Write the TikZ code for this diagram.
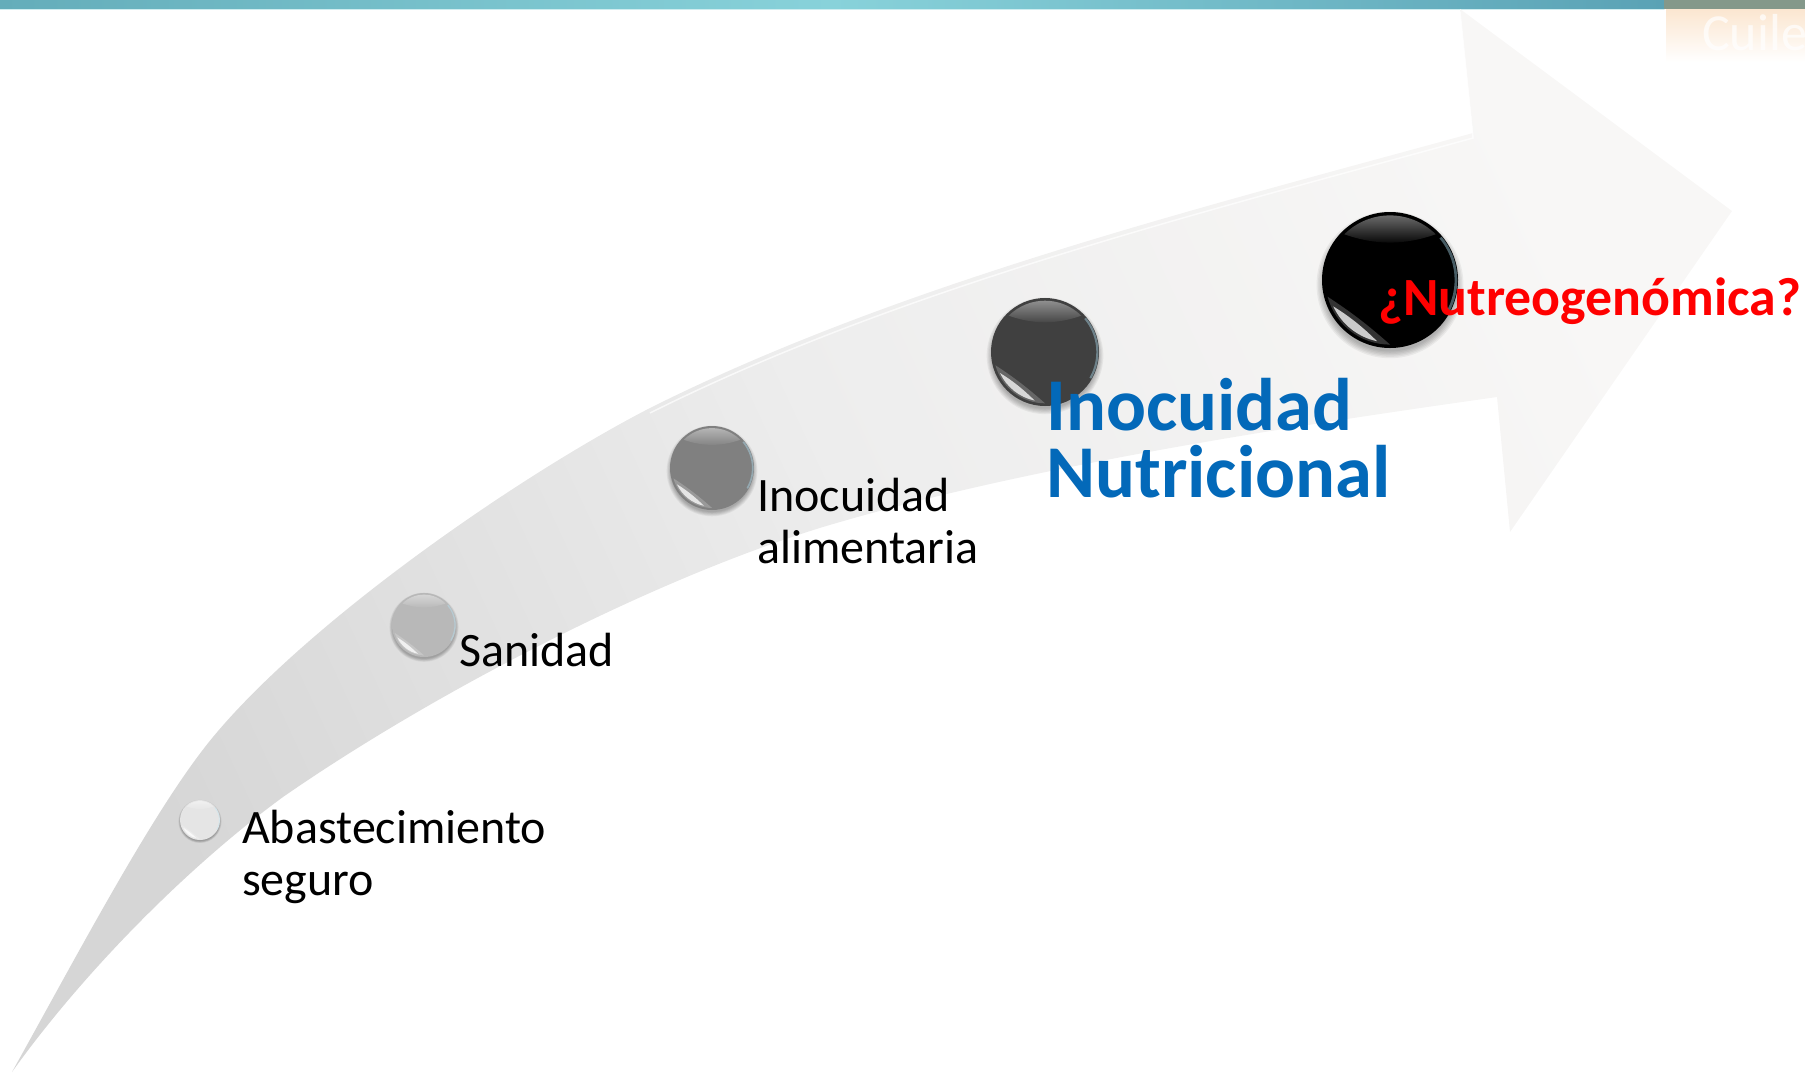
\documentclass[tikz,border=0pt]{standalone}
\usepackage{fontspec}
\setmainfont{Carlito}
\usepackage{xcolor}
\usetikzlibrary{positioning}
\definecolor{barteal}{HTML}{64ADBA}
\definecolor{barlight}{HTML}{88D2DA}
\definecolor{barright}{HTML}{5AA2B5}
\definecolor{barend}{HTML}{84988A}
\definecolor{tabfade}{HTML}{FBE6D0}
\definecolor{tailgrey}{HTML}{D6D6D6}
\definecolor{midgrey}{HTML}{EDEDED}
\definecolor{headgrey}{HTML}{F8F7F6}
\definecolor{bluelabel}{HTML}{0369B9}
\newcommand{\glossbutton}[5]{%
    \foreach \k in {0,...,5} {
        \fill[black, opacity=0.05] (#2,#3+0.07*#4) circle ({(1.08-0.02*\k)*#4});
    }
    \node[button, minimum size=2*#4 pt, fill=#5] (#1) at (#2,#3) {};
    \begin{scope}[shift={(#1.center)}, x=#4pt, y=#4pt]
        \shade[top color=#5!50!white, bottom color=#5] (45:0.95) arc[start angle=45, end angle=135, radius=0.95] .. controls (112:0.55) and (68:0.55) .. cycle;
        \fill[white, opacity=0.2] (195:0.95) arc[start angle=195, end angle=270, radius=0.95] .. controls (245:0.74) and (220:0.74) .. cycle;
        \fill[white, opacity=0.75] (205:0.92) arc[start angle=205, end angle=258, radius=0.92] .. controls (240:0.8) and (222:0.8) .. cycle;
        \draw[white!70!cyan, opacity=0.4, line width=0.04*#4 pt] (-30:0.97) arc[start angle=-30, end angle=40, radius=0.97];
    \end{scope}
}
\begin{document}
\begin{tikzpicture}[
    x=1pt, y=-1pt,
    button/.style={circle, inner sep=0pt, draw=none},
    steplabel/.style={anchor=base west, inner sep=0pt, align=left, font=\fontsize{48}{52}\selectfont},
    biglabel/.style={anchor=base west, inner sep=0pt, align=left, text=bluelabel, font=\fontsize{74.5}{67}\selectfont\bfseries},
    asklabel/.style={anchor=base west, inner sep=0pt, text=red, font=\fontsize{53.8}{60}\selectfont\bfseries}
]
    \useasboundingbox (0,0) rectangle (1805,1072);
    \clip (0,0) rectangle (1805,1072);

    % Top bar
    \shade[left color=barteal, right color=barright, middle color=barlight] (0,0) rectangle (1664,9);
    \fill[barend] (1664,0) rectangle (1805,9);
    \fill[barlight!40!white] (0,9) rectangle (1664,10);
    \shade[top color=tabfade, bottom color=white] (1666,9) rectangle (1805,62);
    \node[anchor=base west, inner sep=0pt, text=white, text opacity=0.7, font=\fontsize{52}{60}\selectfont] (tab) at (1702,50) {Cuile};

    % Arrow
    \shade[left color=tailgrey, right color=headgrey, middle color=midgrey, shading angle=115]
        (12,1072) .. controls (80,950) and (155,807) .. (213,737)
        .. controls (310,620) and (520,475) .. (650,408)
        .. controls (900,283) and (1200,208) .. (1473,133)
        -- (1460,9) -- (1732,211) -- (1510,532) -- (1497,397)
        .. controls (1300,425) and (1030,465) .. (823,527)
        .. controls (650,580) and (430,695) .. (283,797)
        .. controls (190,865) and (85,970) .. (12,1072)
        -- cycle;
    \draw[white, opacity=0.7, line width=1.5pt]
        (650,413) .. controls (900,288) and (1200,213) .. (1473,138) -- (1460,12);

    % Buttons
    \glossbutton{supply}{200}{820}{20}{white!90!black}
    \glossbutton{health}{424}{625}{32}{white!72!black}
    \glossbutton{food}{712}{468}{42}{white!50!black}
    \glossbutton{nutri}{1045}{352}{54}{white!25!black}
    \glossbutton{genom}{1390}{280}{68}{black}

    % Labels
    \node[steplabel] (supply_txt) at (242,895) {Abastecimiento\\seguro};
    \node[steplabel] (health_txt) at (459,666) {Sanidad};
    \node[steplabel] (food_txt) at (757,563) {Inocuidad\\alimentaria};
    \node[biglabel] (nutri_txt) at (1046,497) {Inocuidad\\Nutricional};
    \node[asklabel] (genom_txt) at (1378,315) {¿Nutreogenómica?};
\end{tikzpicture}
\end{document}
